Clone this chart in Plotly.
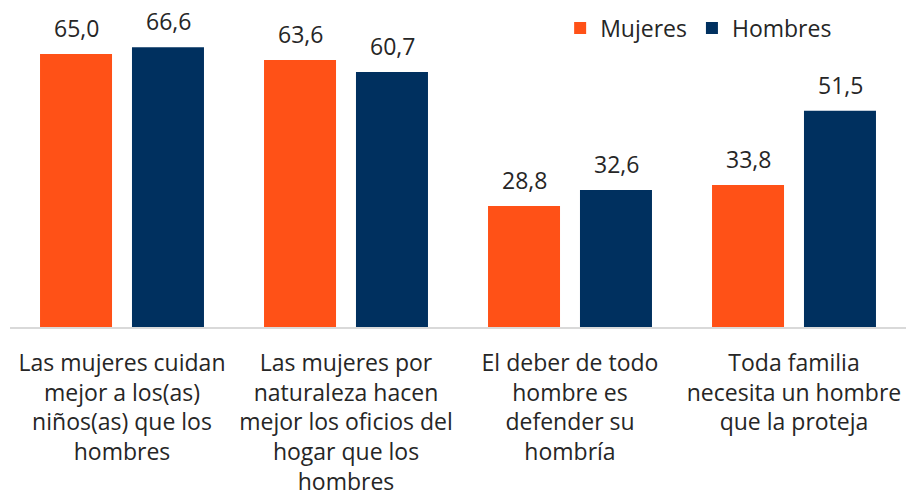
import plotly.graph_objects as go

categories = [
    "Las mujeres cuidan<br>mejor a los(as)<br>niños(as) que los<br>hombres",
    "Las mujeres por<br>naturaleza hacen<br>mejor los oficios del<br>hogar que los<br>hombres",
    "El deber de todo<br>hombre es<br>defender su<br>hombría",
    "Toda familia<br>necesita un hombre<br>que la proteja",
]
mujeres = [65.0, 63.6, 28.8, 33.8]
hombres = [66.6, 60.7, 32.6, 51.5]

def fmt(v):
    return f"{v:.1f}".replace(".", ",")

FONT = "Open Sans"
TXT = "#262626"
C_M = "#FF5117"
C_H = "#00305F"

fig = go.Figure()
fig.add_trace(go.Bar(name="Mujeres", x=categories, y=mujeres,
                     marker=dict(color=C_M, line=dict(width=0))))
fig.add_trace(go.Bar(name="Hombres", x=categories, y=hombres,
                     marker=dict(color=C_H, line=dict(width=0))))

# value labels above bars
for vals, shift in ((mujeres, -46), (hombres, 46)):
    for c, v in zip(categories, vals):
        fig.add_annotation(x=c, y=v, xref="x", yref="y", text=fmt(v),
                           showarrow=False, xshift=shift, yshift=8,
                           yanchor="bottom",
                           font=dict(size=23, color=TXT, family=FONT))

fig.update_layout(
    width=906, height=502,
    margin=dict(l=10, r=0, t=0, b=175, autoexpand=False),
    paper_bgcolor="white", plot_bgcolor="white",
    barmode="group", bargap=0.179, bargroupgap=0.217,
    font=dict(family=FONT, color=TXT, size=22),
    showlegend=True,
    legend=dict(
        orientation="h", x=0.614, xanchor="left", y=0.98, yanchor="top",
        font=dict(size=23, color=TXT, family=FONT),
        tracegroupgap=0, bgcolor="rgba(0,0,0,0)",
    ),
)
fig.update_xaxes(
    showline=True, linecolor="#D9D9D9", linewidth=2, automargin=False,
    ticks="", tickfont=dict(size=23, color=TXT, family=FONT),
    tickangle=0, showgrid=False, zeroline=False, ticklabelstandoff=14,
)
fig.update_yaxes(
    range=[0, 77.86], visible=False, showgrid=False, zeroline=False,
    automargin=False,
)

fig.write_html("out.html", config={"displayModeBar": False},
               post_script="document.body.style.margin='0px';document.body.style.overflow='hidden';")
